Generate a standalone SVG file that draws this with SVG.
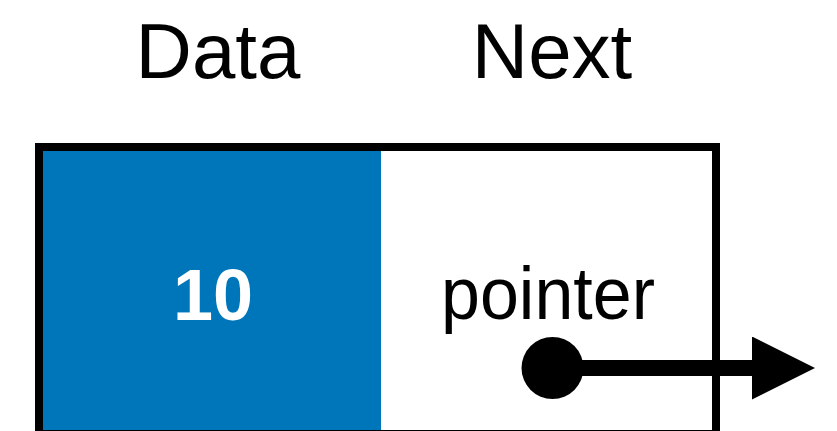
<svg xmlns="http://www.w3.org/2000/svg" width="837" height="431" viewBox="0 0 837 431">
  <style>
    .label { font-family: "Liberation Sans", Arial, Helvetica, sans-serif; fill: #000; text-anchor: middle; }
    .head { font-size: 78px; }
    .value { font-size: 72px; font-weight: bold; fill: #fff; }
    .ptr { font-size: 74px; }
  </style>
  <defs>
    <marker id="arrow" viewBox="0 0 63 63" refX="0" refY="31.5" markerWidth="63" markerHeight="63" markerUnits="userSpaceOnUse" orient="auto">
      <path d="M0,0 L63,31.5 L0,63 Z" fill="#000"/>
    </marker>
  </defs>
  <rect width="837" height="431" fill="#fff"/>

  <!-- column headings -->
  <text class="label head" x="218" y="78">Data</text>
  <text class="label head" x="552" y="78">Next</text>

  <g id="node">
    <!-- data cell -->
    <rect x="43" y="151" width="338" height="285" fill="#0076BA"/>
    <text class="label value" x="213" y="320">10</text>
    <!-- next cell -->
    <text class="label ptr" x="548" y="319" textLength="214" lengthAdjust="spacingAndGlyphs">pointer</text>
    <!-- outline -->
    <rect x="39" y="147" width="677" height="287" fill="none" stroke="#000" stroke-width="8"/>
  </g>

  <g id="connectors">
    <circle cx="552.5" cy="368" r="31"/>
    <line x1="552" y1="368" x2="752" y2="368" stroke="#000" stroke-width="16" marker-end="url(#arrow)"/>
  </g>
</svg>
